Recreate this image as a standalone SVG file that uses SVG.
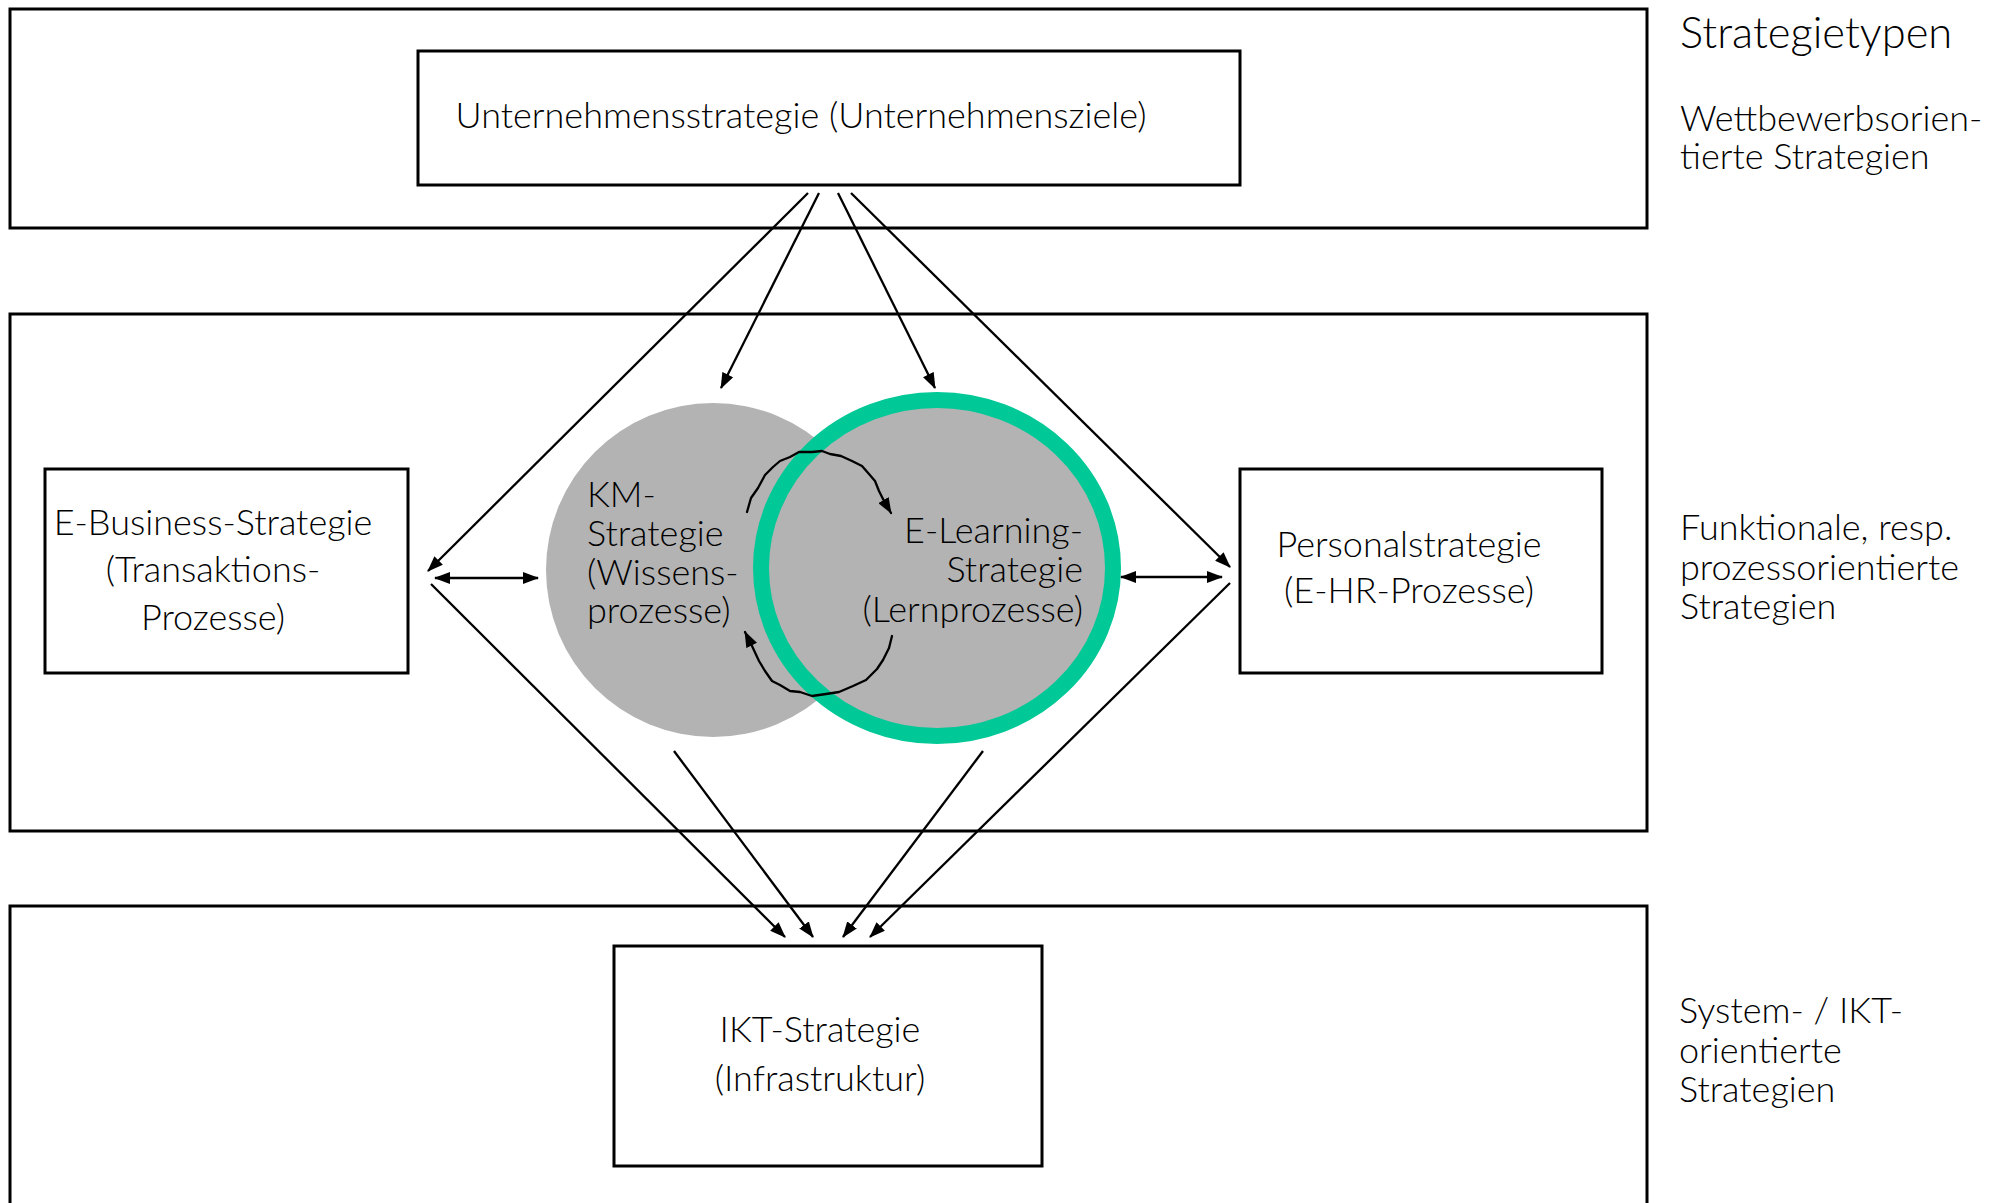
<svg xmlns="http://www.w3.org/2000/svg" width="2001" height="1203" viewBox="0 0 2001 1203">
  <style>
    .band { fill: #ffffff; stroke: #000000; stroke-width: 3; }
    .box { fill: #ffffff; stroke: #000000; stroke-width: 3; }
    .lbl { font-family: "Lato", "Open Sans", sans-serif; font-weight: 300; font-size: 36px; fill: #000000; }
    .mid { text-anchor: middle; }
    .end { text-anchor: end; }
    .con { fill: none; stroke: #000000; stroke-width: 2.3; marker-end: url(#arrow); }
    .dbl { marker-start: url(#arrow); }
    .wave { fill: none; stroke: #000000; stroke-width: 2.3; stroke-linejoin: round; stroke-linecap: round; marker-end: url(#arrow); }
  </style>
  <defs>
    <marker id="arrow" markerUnits="userSpaceOnUse" markerWidth="16" markerHeight="12" refX="15" refY="6" orient="auto-start-reverse">
      <path d="M0,0 L16,6 L0,12 z" fill="#000000"/>
    </marker>
  </defs>
  <rect width="2001" height="1203" fill="#ffffff"/>

  <!-- strategy levels -->
  <g id="band-top"><rect class="band" x="10" y="9" width="1637" height="219"/></g>
  <g id="band-middle"><rect class="band" x="10" y="314" width="1637" height="517"/></g>
  <g id="band-bottom"><rect class="band" x="10" y="906" width="1637" height="400"/></g>

  <!-- level captions -->
  <g id="caption-types">
    <text class="lbl" x="1680" y="48" style="font-size:43.5px">Strategietypen</text>
  </g>
  <g id="caption-competition">
    <text class="lbl" x="1680" y="131">Wettbewerbsorien-</text>
    <text class="lbl" x="1680" y="169">tierte Strategien</text>
  </g>
  <g id="caption-functional">
    <text class="lbl" x="1680" y="540">Funktionale, resp.</text>
    <text class="lbl" x="1680" y="580">prozessorientierte</text>
    <text class="lbl" x="1680" y="619">Strategien</text>
  </g>
  <g id="caption-system">
    <text class="lbl" x="1679" y="1023">System- / IKT-</text>
    <text class="lbl" x="1679" y="1063">orientierte</text>
    <text class="lbl" x="1679" y="1102">Strategien</text>
  </g>

  <!-- nodes -->
  <g id="node-corporate">
    <rect class="box" x="418" y="51" width="822" height="134"/>
    <text class="lbl mid" x="801" y="128">Unternehmensstrategie (Unternehmensziele)</text>
  </g>
  <g id="node-ebusiness">
    <rect class="box" x="45" y="469" width="363" height="204"/>
    <text class="lbl mid" x="213" y="535">E-Business-Strategie</text>
    <text class="lbl mid" x="213" y="582">(Transaktions-</text>
    <text class="lbl mid" x="213" y="630">Prozesse)</text>
  </g>
  <g id="node-km">
    <circle cx="713" cy="570" r="167" fill="#b3b3b3"/>
  </g>
  <g id="node-elearning">
    <ellipse cx="937" cy="568" rx="176" ry="168" fill="#b3b3b3" stroke="#00c896" stroke-width="16"/>
  </g>
  <g id="node-km-label">
    <text class="lbl" x="587" y="507">KM-</text>
    <text class="lbl" x="587" y="546">Strategie</text>
    <text class="lbl" x="587" y="585">(Wissens-</text>
    <text class="lbl" x="587" y="623">prozesse)</text>
  </g>
  <g id="node-elearning-label">
    <text class="lbl end" x="1083" y="543">E-Learning-</text>
    <text class="lbl end" x="1083" y="582">Strategie</text>
    <text class="lbl end" x="1083" y="622">(Lernprozesse)</text>
  </g>
  <g id="node-personal">
    <rect class="box" x="1240" y="469" width="362" height="204"/>
    <text class="lbl mid" x="1409" y="557">Personalstrategie</text>
    <text class="lbl mid" x="1409" y="603">(E-HR-Prozesse)</text>
  </g>
  <g id="node-ikt">
    <rect class="box" x="614" y="946" width="428" height="220"/>
    <text class="lbl mid" x="820" y="1042">IKT-Strategie</text>
    <text class="lbl mid" x="820" y="1091">(Infrastruktur)</text>
  </g>

  <!-- connectors -->
  <g id="connectors">
    <line class="con" x1="808" y1="193" x2="428" y2="571"/>
    <line class="con" x1="819" y1="193" x2="721" y2="388"/>
    <line class="con" x1="838" y1="193" x2="935" y2="388"/>
    <line class="con" x1="851" y1="193" x2="1230" y2="567"/>
    <line class="con dbl" x1="435" y1="578" x2="538" y2="578"/>
    <line class="con dbl" x1="1121" y1="577" x2="1222" y2="577"/>
    <line class="con" x1="431" y1="584" x2="785" y2="937"/>
    <line class="con" x1="674" y1="751" x2="813" y2="937"/>
    <line class="con" x1="983" y1="751" x2="843" y2="937"/>
    <line class="con" x1="1230" y1="583" x2="870" y2="937"/>
    <path class="wave" d="M747,512 L751,498 L758,488 L765,475 L773,467 L780,461 L790,457 L799,452 L812,452 L822,451 L830,454 L841,456 L852,461 L862,466 L869,474 L875,481 L879,491 L884,501 L891,513"/>
    <path class="wave" d="M892,636 L889,648 L883,660 L877,669 L866,680 L853,686 L839,692 L826,694 L812,696 L800,692 L790,691 L780,685 L772,681 L765,671 L759,661 L752,646 L745,632"/>
  </g>
</svg>
